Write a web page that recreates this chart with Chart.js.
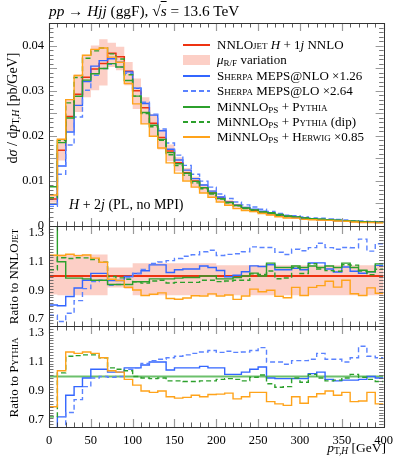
<!DOCTYPE html>
<html><head><meta charset="utf-8">
<script src="https://cdn.jsdelivr.net/npm/chart.js@4.4.1/dist/chart.umd.min.js"></script>
<style>
html,body{margin:0;padding:0;background:#fff}
body{width:399px;height:461px;position:relative;overflow:hidden;font-family:'Liberation Serif',serif;color:#000}
#c{position:absolute;left:0;top:0}
.t{position:absolute;white-space:nowrap;line-height:1}
.sc{font-variant:small-caps}
sub{font-size:70%;vertical-align:-0.25em;line-height:0}
.lg{position:absolute;left:217px;font-size:13px;white-space:nowrap;line-height:1}
.sw{position:absolute;left:183px;width:27px;height:1.6px}
.rot{position:absolute;width:200px;text-align:center;transform:rotate(-90deg);white-space:nowrap;line-height:1}
</style></head>
<body>
<canvas id="c" width="399" height="461"></canvas>

<div class="t" style="left:49px;top:3px;font-size:15.3px"><i>pp</i> → <i>Hjj</i> (ggF), √<span style="text-decoration:overline"><i>s</i></span> = 13.6 TeV</div>
<div class="rot" style="left:-87px;top:101px;font-size:14px">d<i>σ</i> / d<i>p</i><sub>T,<i>H</i></sub> [pb/GeV]</div>
<div class="rot" style="left:-87px;top:270px;font-size:13px">Ratio to NNLO<span class="sc">jet</span></div>
<div class="rot" style="left:-87px;top:371px;font-size:13px">Ratio to <span class="sc">Pythia</span></div>
<div class="t" style="right:13px;top:441px;font-size:13.5px"><i>p</i><sub>T,<i>H</i></sub> [GeV]</div>
<div class="t" style="left:69px;top:198px;font-size:14px"><i>H</i> + 2<i>j</i> (PL, no MPI)</div>

<div class="sw" style="top:44px;background:#ee3311"></div>
<div class="lg" style="top:38px">NNLO<span class="sc">jet</span> <i>H</i> + 1<i>j</i> NNLO</div>
<div class="sw" style="top:55px;height:10px;background:#fccfc6"></div>
<div class="lg" style="top:53px"><i>μ</i><sub>R/F</sub> variation</div>
<div class="sw" style="top:75px;background:#3366ff"></div>
<div class="lg" style="top:69px"><span class="sc">Sherpa</span> MEPS@NLO ×1.26</div>
<div class="sw" style="top:90px;background:repeating-linear-gradient(90deg,#5a82ff 0 5px,transparent 5px 8px)"></div>
<div class="lg" style="top:84px"><span class="sc">Sherpa</span> MEPS@LO ×2.64</div>
<div class="sw" style="top:106px;background:#2ca02c"></div>
<div class="lg" style="top:100px">MiNNLO<sub>PS</sub> + <span class="sc">Pythia</span></div>
<div class="sw" style="top:121px;background:repeating-linear-gradient(90deg,#2ca02c 0 5px,transparent 5px 8px)"></div>
<div class="lg" style="top:115px">MiNNLO<sub>PS</sub> + <span class="sc">Pythia</span> (dip)</div>
<div class="sw" style="top:136px;background:#ffa31a"></div>
<div class="lg" style="top:130px">MiNNLO<sub>PS</sub> + <span class="sc">Herwig</span> ×0.85</div>

<script>
// ---- data (10 GeV bins, 0-400 GeV) ----
const binEdges = [0,10,20,30,40,50,60,70,80,90,100,110,120,130,140,150,160,170,180,190,200,210,220,230,240,250,260,270,280,290,300,310,320,330,340,350,360,370,380,390,400];
// NNLOJET H+1j NNLO central value [pb/GeV]
const nnloCentral = [0.0060,0.0168,0.0243,0.0292,0.0330,0.0348,0.0360,0.0383,0.0375,0.0343,0.0300,0.0262,0.0228,0.0196,0.0166,0.0140,0.0118,0.0100,0.0085,0.0073,0.0062,0.0053,0.0046,0.0040,0.0035,0.0031,0.0027,0.0024,0.0021,0.0019,0.0017,0.0015,0.0014,0.0013,0.0012,0.0011,0.0010,0.0009,0.00085,0.0008];
// scale variation band relative to central
const bandLow  = [0.87,0.865,0.865,0.865,0.865,0.865,0.865,0.92,0.92,0.91,0.865,0.865,0.865,0.865,0.865,0.865,0.865,0.865,0.865,0.865,0.865,0.865,0.865,0.865,0.865,0.865,0.865,0.865,0.865,0.865,0.865,0.865,0.865,0.865,0.865,0.865,0.865,0.865,0.865,0.865];
const bandHigh = [1.15,1.15,1.15,1.15,1.15,1.15,1.15,1.06,1.06,1.06,1.09,1.09,1.09,1.09,1.09,1.09,1.09,1.09,1.09,1.09,1.075,1.075,1.075,1.075,1.075,1.075,1.075,1.075,1.075,1.075,1.075,1.075,1.075,1.075,1.075,1.075,1.075,1.075,1.075,1.075];
// MiNNLO_PS + Pythia, ratio to NNLOJET
const pythiaToNnlo = [1.45,1.10,0.985,0.985,0.98,0.97,0.97,0.94,0.94,0.94,0.96,0.96,0.98,0.98,0.98,0.985,0.99,0.99,1.0,1.0,0.98,0.98,0.99,1.0,1.02,1.0,1.09,1.06,1.06,1.07,1.06,1.07,1.06,1.07,1.06,1.09,1.06,1.04,1.03,1.085];
// ratios to MiNNLO_PS + Pythia
const herwigToPythia = [0.79,1.04,1.17,1.16,1.17,1.16,1.13,1.04,1.03,0.98,0.94,0.90,0.89,0.90,0.86,0.85,0.855,0.87,0.86,0.875,0.878,0.885,0.845,0.86,0.89,0.89,0.826,0.81,0.80,0.86,0.815,0.86,0.88,0.90,0.87,0.89,0.826,0.83,0.89,0.81];
const sherpaNloToPythia = [0.55,0.72,0.87,0.93,0.99,1.05,1.05,1.03,1.03,1.06,1.06,1.08,1.10,1.10,1.045,1.06,1.06,1.06,1.07,1.06,1.06,1.015,1.015,1.03,1.05,1.066,0.99,0.985,0.985,0.985,0.985,1.02,1.03,0.98,0.97,0.975,0.975,0.98,1.0,0.99];
const sherpaLoToPythia = [0.50,0.62,0.75,0.84,0.93,0.99,1.0,0.995,1.0,1.05,1.06,1.09,1.11,1.12,1.13,1.14,1.15,1.16,1.17,1.18,1.167,1.175,1.167,1.17,1.18,1.20,1.10,1.10,1.085,1.11,1.11,1.12,1.16,1.12,1.12,1.10,1.13,1.21,1.14,1.13];
const pythiaDipToPythia = [0.72,1.025,1.14,1.145,1.15,1.15,1.13,1.06,1.05,1.04,1.0,0.99,0.985,0.99,0.97,0.97,0.965,0.965,0.97,0.97,0.98,0.985,0.98,0.97,0.995,1.01,0.95,0.925,0.93,0.99,0.96,1.015,0.99,0.97,0.975,0.99,1.015,0.995,0.98,0.965];
// tick labels
const xTickValues = [0,50,100,150,200,250,300,350,400];
const mainTickValues = [0,0.005,0.01,0.015,0.02,0.025,0.03,0.035,0.04];
const ratioTickValues = [0.7,0.8,0.9,1,1.1,1.2,1.3];

// ---- derived ----
const nBins = nnloCentral.length;
const idx = [...Array(nBins).keys()];
const pythiaMain = idx.map(i => nnloCentral[i] * pythiaToNnlo[i]);
const toNnlo = r => idx.map(i => r[i] * pythiaToNnlo[i]);
const herwigToNnlo = toNnlo(herwigToPythia);
const sherpaNloToNnlo = toNnlo(sherpaNloToPythia);
const sherpaLoToNnlo = toNnlo(sherpaLoToPythia);
const pythiaDipToNnlo = toNnlo(pythiaDipToPythia);
const toMain = r => idx.map(i => r[i] * nnloCentral[i]);
const ones = idx.map(() => 1);

function steps(vals) {
  const pts = vals.map((v, i) => ({x: binEdges[i], y: v}));
  pts.push({x: binEdges[nBins], y: vals[nBins - 1]});
  return pts;
}

const RED = '#ee3311', PINK = '#fccfc6', BLUE = '#3366ff', BLUE2 = '#5a82ff', GREEN = '#2ca02c', ORANGE = '#ffa31a';
function line(vals, axis, color, dash, width, order, extra) {
  return Object.assign({data: steps(vals), yAxisID: axis, borderColor: color, borderDash: dash || [],
    borderWidth: width || 1.4, pointRadius: 0, stepped: 'before', fill: false, tension: 0,
    backgroundColor: color, order: order}, extra || {});
}
const DASH = [5, 3];
const NONE = 'rgba(0,0,0,0)';
const datasets = [
  // main panel
  line(toMain(bandLow), 'y', NONE, null, 0, 20),
  line(toMain(bandHigh), 'y', NONE, null, 0, 19, {fill: '-1', backgroundColor: PINK}),
  line(nnloCentral, 'y', RED, null, 1.5, 6),
  line(toMain(sherpaNloToNnlo), 'y', BLUE, null, 1.4, 5),
  line(toMain(sherpaLoToNnlo), 'y', BLUE2, DASH, 1.4, 4),
  line(pythiaMain, 'y', GREEN, null, 1.4, 3),
  line(toMain(pythiaDipToNnlo), 'y', GREEN, DASH, 1.4, 2),
  line(toMain(herwigToNnlo), 'y', ORANGE, null, 1.4, 1),
  // ratio to NNLOJET
  line(bandLow, 'r1', NONE, null, 0, 20),
  line(bandHigh, 'r1', NONE, null, 0, 19, {fill: '-1', backgroundColor: PINK}),
  line(ones, 'r1', RED, null, 2, 6),
  line(sherpaNloToNnlo, 'r1', BLUE, null, 1.4, 5),
  line(sherpaLoToNnlo, 'r1', BLUE2, DASH, 1.4, 4),
  line(pythiaToNnlo, 'r1', GREEN, null, 1.4, 3),
  line(pythiaDipToNnlo, 'r1', GREEN, DASH, 1.4, 2),
  line(herwigToNnlo, 'r1', ORANGE, null, 1.4, 1),
  // ratio to Pythia
  line(ones, 'r2', '#6cc06c', null, 2.2, 6),
  line(sherpaNloToPythia, 'r2', BLUE, null, 1.4, 5),
  line(sherpaLoToPythia, 'r2', BLUE2, DASH, 1.4, 4),
  line(pythiaDipToPythia, 'r2', GREEN, DASH, 1.4, 2),
  line(herwigToPythia, 'r2', ORANGE, null, 1.4, 1),
];

const FONT = {family: "'Liberation Serif', serif", size: 12.5};
function yScale(min, max, weight, tickVals, fmt) {
  return {
    type: 'linear', position: 'left', stack: 'v', stackWeight: weight, min, max,
    grid: {display: false, drawTicks: false}, border: {display: false},
    ticks: {font: FONT, color: '#000', padding: 5, callback: fmt},
    afterBuildTicks: s => { s.ticks = tickVals.map(v => ({value: v})); },
    afterFit: s => { s.width = 49; }
  };
}

const panelClip = {
  id: 'panelClip',
  beforeDatasetDraw(chart, args) {
    const ys = args.meta.yScale, ca = chart.chartArea, ctx = chart.ctx;
    ctx.save(); ctx.beginPath(); ctx.rect(ca.left, ys.top, ca.right - ca.left, ys.bottom - ys.top); ctx.clip();
  },
  afterDatasetDraw(chart) { chart.ctx.restore(); }
};

const frames = {
  id: 'frames',
  afterDraw(chart) {
    const ctx = chart.ctx, xs = chart.scales.x, ca = chart.chartArea;
    const panels = [['y', 0.001, 0.005], ['r1', 0.02, 0.1], ['r2', 0.02, 0.1]];
    ctx.save();
    for (const [id, minorStep, majorStep] of panels) {
      const ys = chart.scales[id];
      const top = ys.top, bot = ys.bottom;
      for (let v = 0; v <= 400; v += 10) {
        const px = Math.round(xs.getPixelForValue(v)) + 0.5;
        const major = v % 50 === 0;
        const len = major ? 8 : 4.5;
        ctx.strokeStyle = major ? '#999' : '#333'; ctx.lineWidth = major ? 1.2 : 0.8;
        ctx.beginPath(); ctx.moveTo(px, bot); ctx.lineTo(px, bot - len); ctx.moveTo(px, top); ctx.lineTo(px, top + len); ctx.stroke();
      }
      const n = Math.round((ys.max - ys.min) / minorStep);
      for (let k = 0; k <= n; k++) {
        const v = ys.min + k * minorStep;
        const r = v / majorStep;
        const major = Math.abs(r - Math.round(r)) < 1e-6;
        const py = Math.round(ys.getPixelForValue(v)) + 0.5;
        const len = major ? 8 : 4.5;
        ctx.strokeStyle = major ? '#999' : '#555'; ctx.lineWidth = major ? 1.2 : 0.8;
        ctx.beginPath(); ctx.moveTo(ca.left, py); ctx.lineTo(ca.left + len, py); ctx.moveTo(ca.right, py); ctx.lineTo(ca.right - len, py); ctx.stroke();
      }
      ctx.strokeStyle = '#333'; ctx.lineWidth = 1;
      ctx.strokeRect(Math.round(ca.left) + 0.5, Math.round(top) + 0.5, Math.round(ca.right - ca.left), Math.round(bot - top));
    }
    ctx.restore();
  }
};

new Chart(document.getElementById('c'), {
  type: 'line',
  data: {datasets},
  plugins: [panelClip, frames],
  options: {
    responsive: false, animation: false, devicePixelRatio: 1,
    layout: {padding: {top: 23, right: 13, left: 0, bottom: 0}},
    plugins: {legend: {display: false}, tooltip: {enabled: false}, filler: {propagate: false}},
    scales: {
      x: {type: 'linear', min: 0, max: 400, position: 'bottom',
          grid: {display: false, drawTicks: false}, border: {display: false},
          ticks: {font: FONT, color: '#000', padding: 6, maxRotation: 0, autoSkip: false},
          afterBuildTicks: s => { s.ticks = xTickValues.map(v => ({value: v})); },
          afterFit: s => { s.height = 34; }},
      r2: yScale(0.65, 1.35, 1.01, ratioTickValues, v => String(+v.toFixed(1))),
      r1: yScale(0.65, 1.35, 1, ratioTickValues, v => String(+v.toFixed(1))),
      y: yScale(0, 0.045, 2.03, mainTickValues, v => String(+v.toFixed(3)))
    }
  }
});
</script>
</body></html>
